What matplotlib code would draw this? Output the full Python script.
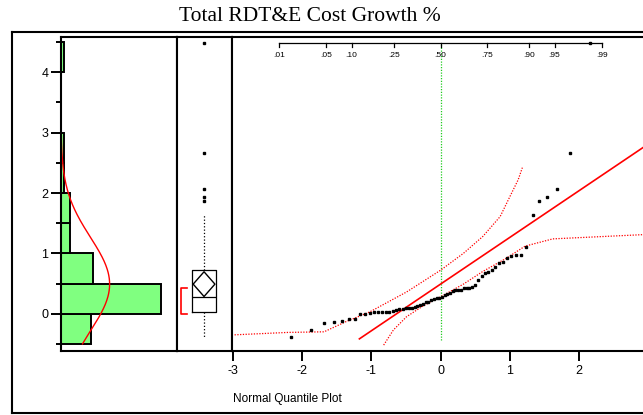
import matplotlib
matplotlib.use('Agg')
import matplotlib.pyplot as plt
from matplotlib.lines import Line2D
import numpy as np
from statistics import NormalDist

plt.rcParams['font.family'] = ['Liberation Sans', 'DejaVu Sans']
plt.rcParams['axes.unicode_minus'] = False

# sorted values
growth = [-0.39, -0.27, -0.16, -0.14, -0.12, -0.08, -0.08, 0.0, 0.0, 0.01,
          0.02, 0.02, 0.02, 0.02, 0.02, 0.04, 0.06, 0.07, 0.07, 0.09,
          0.09, 0.09, 0.11, 0.12, 0.14, 0.16, 0.20, 0.20, 0.22, 0.25,
          0.26, 0.26, 0.28, 0.31, 0.33, 0.35, 0.37, 0.39, 0.40, 0.40,
          0.42, 0.43, 0.43, 0.45, 0.47, 0.56, 0.62, 0.67, 0.69, 0.72,
          0.78, 0.84, 0.85, 0.92, 0.96, 0.98, 0.98, 1.11, 1.63, 1.86,
          1.94, 2.06, 2.67, 4.48]

# histogram bins (lower edge) and counts
bin_lo = [-0.5, 0.0, 0.5, 1.0, 1.5, 2.0, 2.5, 3.0, 3.5, 4.0]
bin_count = [10, 34, 11, 3, 3, 1, 1, 0, 0, 1]
bin_width = 0.5

# normal fit
fit_mean = 0.49
fit_sd = 0.775

# box plot stats
q1, med, q3 = 0.03, 0.27, 0.72
whisk_lo, whisk_hi = -0.38, 1.64
mean_ci = 0.205
short_half = (-0.005, 0.43)

# confidence bands
band_hi_q = [-2.97, -2.20, -1.68, -1.36, -1.02, -0.49, 0.0, 0.33, 0.61, 0.86, 1.0, 1.12, 1.18]
band_hi_v = [-0.35, -0.31, -0.30, -0.13, 0.03, 0.36, 0.72, 1.0, 1.28, 1.61, 1.94, 2.22, 2.42]
band_lo_q = [-0.82, -0.68, -0.49, -0.25, 0.0, 0.33, 0.61, 0.95, 1.22, 1.62, 2.92]
band_lo_v = [-0.52, -0.27, -0.05, 0.13, 0.28, 0.49, 0.70, 0.92, 1.12, 1.24, 1.31]

probs = [.01, .05, .10, .25, .50, .75, .90, .95, .99]
prob_labels = ['.01', '.05', '.10', '.25', '.50', '.75', '.90', '.95', '.99']

nd = NormalDist()
n = len(growth)
quant = [nd.inv_cdf(i / (n + 1)) for i in range(1, n + 1)]

W, H = 643, 415
fig = plt.figure(figsize=(W / 100, H / 100), dpi=100)

def fx(px):
    return px / W

def fy(py):
    return 1 - py / H

top, bot = 37.3, 350.7
ylim = (-0.613, 4.58)
lw = 1.5

ax1 = fig.add_axes([fx(61), fy(bot), fx(176.7 - 61), fy(top) - fy(bot)])
ax2 = fig.add_axes([fx(176.7), fy(bot), fx(232.5 - 176.7), fy(top) - fy(bot)], sharey=ax1)
ax3 = fig.add_axes([fx(232.5), fy(bot), fx(W - 232.5), fy(top) - fy(bot)], sharey=ax1)

for ax in (ax1, ax2, ax3):
    for s in ax.spines.values():
        s.set_linewidth(lw)
ax3.spines['right'].set_visible(False)

# histogram panel
ax1.barh(bin_lo, bin_count, height=bin_width, align='edge', color='#80ff80',
         edgecolor='black', linewidth=1.4)
yy = np.linspace(-0.5, 4.5, 300)
dens = [n * bin_width * NormalDist(fit_mean, fit_sd).pdf(v) for v in yy]
ax1.plot(dens, yy, color='red', lw=1.0)
ax1.set_xlim(0, 39.2)
ax1.set_ylim(*ylim)
ax1.set_xticks([])
ax1.set_yticks([0, 1, 2, 3, 4])
ax1.set_yticks(np.arange(-0.5, 4.6, 0.5), minor=True)
ax1.tick_params(axis='y', which='major', length=7, width=1.4, labelsize=9, pad=2)
ax1.tick_params(axis='y', which='minor', length=3.5, width=1.4)

# box plot panel
fliers = [v for v in growth if v > whisk_hi]
stats = [dict(med=med, q1=q1, q3=q3, whislo=whisk_lo, whishi=whisk_hi, fliers=fliers)]
ax2.bxp(stats, positions=[0.49], widths=0.42, showcaps=False,
        boxprops=dict(color='black', lw=0.9),
        medianprops=dict(color='black', lw=0.9),
        whiskerprops=dict(color='black', lw=0.9, linestyle=':'),
        flierprops=dict(marker='s', markersize=1.8, markerfacecolor='black',
                        markeredgecolor='black'))
ax2.plot([0.49 - 0.195, 0.49, 0.49 + 0.195, 0.49, 0.49 - 0.195],
         [fit_mean, fit_mean + mean_ci, fit_mean, fit_mean - mean_ci, fit_mean],
         color='black', lw=1.0)
ax2.plot([0.18, 0.08, 0.08, 0.18], [short_half[0], short_half[0], short_half[1], short_half[1]],
         color='red', lw=1.2)
ax2.set_xlim(0, 1)
ax2.set_xticks([])
ax2.tick_params(axis='both', which='both', left=False, bottom=False,
                labelleft=False, labelbottom=False)

# normal quantile panel
ax3.plot([0, 0], [-0.44, 4.48], color='#22cc22', lw=0.9, linestyle=(0, (1, 1.2)))
ax3.plot(band_hi_q, band_hi_v, color='red', lw=0.9, linestyle=(0, (1, 1.2)))
ax3.plot(band_lo_q, band_lo_v, color='red', lw=0.9, linestyle=(0, (1, 1.2)))
lq = np.array([-1.17, 2.92])
ax3.plot(lq, fit_mean + fit_sd * lq, color='red', lw=1.2)
ax3.plot(quant, growth, 's', color='black', markersize=1.8)
ax3.set_xlim(-3, 2.92)
ax3.set_xticks([-3, -2, -1, 0, 1, 2])
ax3.tick_params(axis='x', length=7, width=1.4, labelsize=9, pad=3)
ax3.tick_params(axis='y', which='both', left=False, labelleft=False)

# probability scale along the top
pz = [nd.inv_cdf(p) for p in probs]
ya = 1 - 6 / (bot - top)
trans = ax3.get_xaxis_transform()
ax3.plot([pz[0], pz[-1]], [ya, ya], color='black', lw=0.9, transform=trans)
for z, lab in zip(pz, prob_labels):
    ax3.plot([z, z], [ya, ya - 0.013], color='black', lw=0.9, transform=trans)
    ax3.text(z, ya - 0.038, lab, transform=trans, ha='center', va='center', fontsize=6)

# outer frame and texts
frame = dict(color='black', lw=1.5, transform=fig.transFigure)
fig.add_artist(Line2D([fx(11.5), fx(11.5)], [fy(32.3), fy(413.3)], **frame))
fig.add_artist(Line2D([fx(11.5), 1.0], [fy(32.3), fy(32.3)], **frame))
fig.add_artist(Line2D([fx(11.5), 1.0], [fy(413.3), fy(413.3)], **frame))

fig.text(fx(310), fy(20.7), 'Total RDT&E Cost Growth %', ha='center', va='baseline',
         fontsize=15.5, family=['Liberation Serif', 'DejaVu Serif'])
fig.text(fx(233), fy(399), 'Normal Quantile Plot', ha='left', va='center', fontsize=8.5)

fig.savefig('out.png', dpi=100)
